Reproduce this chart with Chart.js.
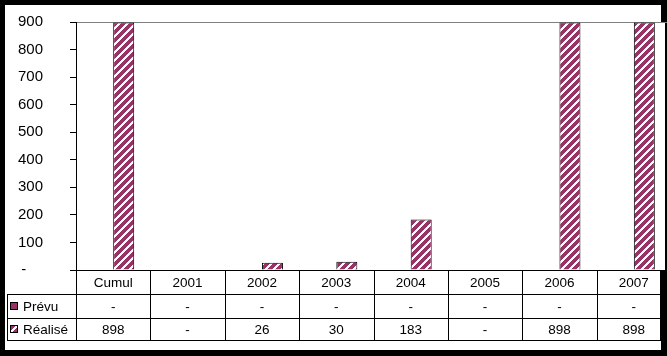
<!DOCTYPE html>
<html>
<head>
<meta charset="utf-8">
<script src="https://cdn.jsdelivr.net/npm/chart.js@4.4.1/dist/chart.umd.min.js"></script>
<style>
  html, body { margin: 0; padding: 0; background: #000; overflow: hidden; }
  canvas { display: block; }
</style>
</head>
<body>
<!-- a bit wider than the window: the last column runs past the frame, like the original -->
<canvas id="chart" width="671" height="356"></canvas>
<script>
// data
const categories = ['Cumul', '2001', '2002', '2003', '2004', '2005', '2006', '2007'];
const seriesNames = ['Prévu', 'Réalisé'];
const prevu   = [0, 0, 0, 0, 0, 0, 0, 0];
const realise = [898, 0, 26, 30, 183, 0, 898, 898];
const yMax  = 900;
const yStep = 100;

const MAROON = '#993366';

// striped fill like the Excel "wide upward diagonal" pattern
function makeStripes() {
  const tile = document.createElement('canvas');
  tile.width = 8; tile.height = 8;
  const t = tile.getContext('2d');
  t.fillStyle = '#fff';
  t.fillRect(0, 0, 8, 8);
  t.fillStyle = MAROON;
  for (let y = 0; y < 8; y++) {
    for (let x = 0; x < 8; x++) {
      if ((x + y) % 8 < 5) t.fillRect(x, y, 1, 1);
    }
  }
  return t.createPattern(tile, 'repeat');
}
const stripes = makeStripes();

const fmt = v => (v === 0 || v == null) ? '-' : String(v);

// white panel inside the black frame
const panelBg = {
  id: 'panelBg',
  beforeDraw(chart) {
    const c = chart.ctx;
    const a = chart.chartArea;
    c.save();
    c.fillStyle = '#000';
    c.fillRect(0, 0, chart.width, chart.height);
    c.fillStyle = '#fff';
    c.fillRect(5, 5, 656, 345);
    // plot area pokes out a little on the right
    c.fillRect(a.left, a.top, 665 - a.left, a.bottom - a.top);
    c.restore();
  }
};

// data table under the plot, Excel style
const dataTable = {
  id: 'dataTable',
  afterDraw(chart) {
    const c = chart.ctx;
    const xs = chart.scales.x;
    const area = chart.chartArea;
    const colW = xs.getPixelForValue(1) - xs.getPixelForValue(0);
    const top = area.bottom;
    const rows = [top, top + 24, top + 48, top + 70];
    const left = 7, right = 660;

    c.save();
    c.strokeStyle = '#000';
    c.lineWidth = 1;
    c.beginPath();
    // horizontal lines
    for (let i = 1; i < rows.length; i++) {
      c.moveTo(left, rows[i] + 0.5);
      c.lineTo(right + 1, rows[i] + 0.5);
    }
    // row-header left border
    c.moveTo(left + 0.5, rows[1]);
    c.lineTo(left + 0.5, rows[3] + 1);
    // column separators
    for (let i = 0; i <= categories.length; i++) {
      const x = Math.round(xs.getPixelForValue(0) - colW / 2 + i * colW);
      if (x > right) break;
      c.moveTo(x + 0.5, top);
      c.lineTo(x + 0.5, rows[3] + 1);
    }
    c.moveTo(right + 0.5, top);
    c.lineTo(right + 0.5, rows[3] + 1);
    c.stroke();

    c.fillStyle = '#000';
    c.font = '13.5px "Liberation Sans", Arial, sans-serif';
    c.textAlign = 'center';
    c.textBaseline = 'middle';
    const series = [prevu, realise];
    categories.forEach((cat, i) => {
      const x = xs.getPixelForValue(i);
      c.fillText(cat, x, (rows[0] + rows[1]) / 2 + 1);
      series.forEach((s, r) => {
        c.fillText(fmt(s[i]), x, (rows[r + 1] + rows[r + 2]) / 2 + 1);
      });
    });

    // row headers with legend keys
    c.textAlign = 'left';
    seriesNames.forEach((name, r) => {
      const yMid = (rows[r + 1] + rows[r + 2]) / 2;
      const ky = Math.round(yMid - 4);
      c.fillStyle = r === 0 ? MAROON : stripes;
      c.fillRect(10, ky, 8, 8);
      c.strokeStyle = '#000';
      c.strokeRect(10.5, ky + 0.5, 7, 7);
      c.fillStyle = '#000';
      c.fillText(name, 23, yMid + 1);
    });
    c.restore();
  }
};

const ctx = document.getElementById('chart').getContext('2d');
new Chart(ctx, {
  type: 'bar',
  data: {
    labels: categories,
    datasets: [
      {
        label: seriesNames[0],
        data: prevu,
        backgroundColor: MAROON,
        borderColor: '#000',
        borderWidth: 0
      },
      {
        label: seriesNames[1],
        data: realise,
        backgroundColor: stripes,
        borderColor: '#000',
        borderWidth: 1
      }
    ]
  },
  plugins: [panelBg, dataTable],
  options: {
    responsive: false,
    animation: false,
    devicePixelRatio: 1,
    layout: { padding: { left: 0, top: 22, right: 0, bottom: 0 } },
    datasets: {
      bar: { categoryPercentage: 0.565, barPercentage: 1 }
    },
    plugins: {
      legend: { display: false },
      tooltip: { enabled: false }
    },
    scales: {
      x: {
        ticks: { display: false },
        grid: { display: false },
        border: { color: '#000', width: 1 },
        afterFit(scale) { scale.height = 86; }
      },
      y: {
        min: 0,
        max: yMax,
        ticks: {
          stepSize: yStep,
          color: '#000',
          padding: 27,
          font: { family: '"Liberation Sans", Arial, sans-serif', size: 15 },
          callback: v => v === 0 ? '-    ' : v
        },
        grid: {
          color: c => c.tick && c.tick.value === yMax ? '#808080' : 'rgba(0,0,0,0)',
          tickColor: '#000',
          tickLength: 6
        },
        border: { color: '#000', width: 1 },
        afterFit(scale) {
          // tick padding would otherwise push the plot down
          scale.width = 76;
          scale.paddingTop = 0;
          scale.paddingBottom = 0;
        }
      }
    }
  }
});
</script>
</body>
</html>
